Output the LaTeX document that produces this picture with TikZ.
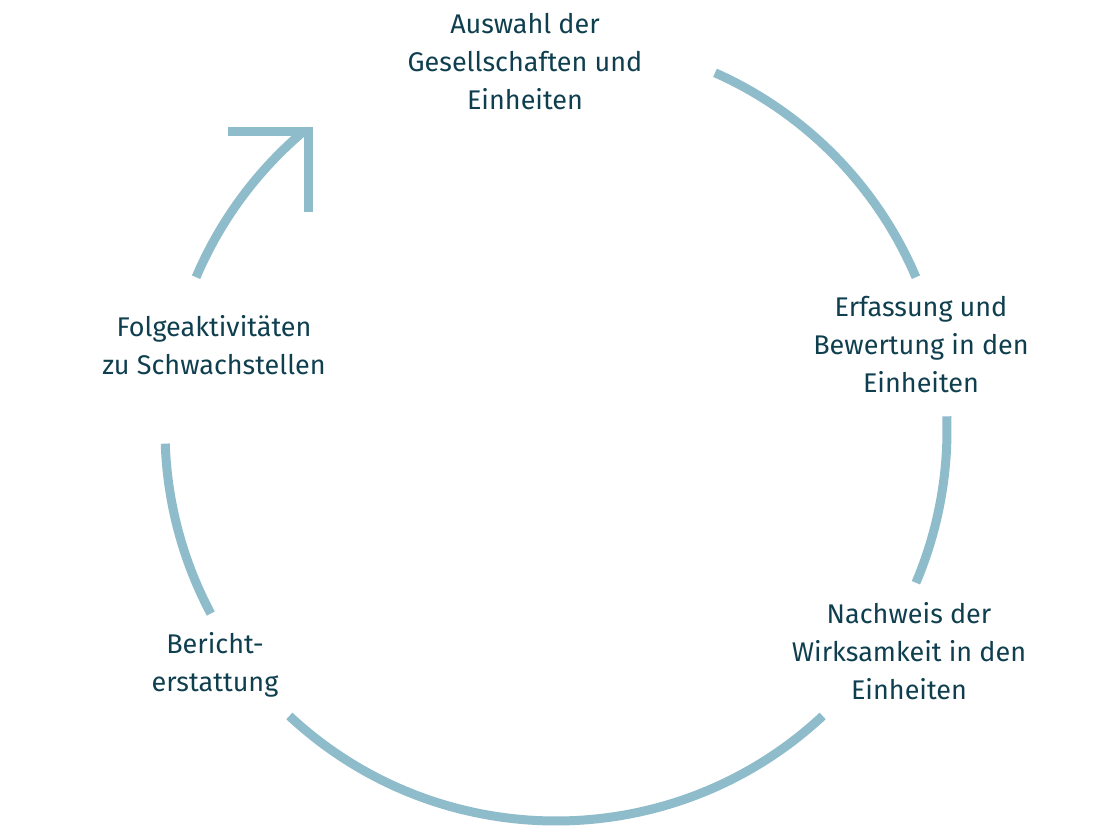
\documentclass[tikz,border=0pt]{standalone}
\usepackage{fontspec}
\setmainfont{Fira Sans}
\usetikzlibrary{positioning}
\definecolor{ringblue}{HTML}{8FBCCB}
\definecolor{textteal}{HTML}{0F3F4F}

\begin{document}
\begin{tikzpicture}[x=1pt, y=1pt,
  phase/.style={align=center, text=textteal, inner sep=0pt,
               font=\fontsize{27}{38}\selectfont},
  ring/.style={draw=ringblue, line width=9pt}
]
\useasboundingbox (0,0) rectangle (1120,840);

% Centre of the cycle
\coordinate (c) at (556,410);

% Phases
\node[phase] (auswahl) at (525,778) {Auswahl der\\Gesellschaften und\\Einheiten};
\node[phase] (erfassung) at (921,495) {Erfassung und\\Bewertung in den\\Einheiten};
\node[phase] (nachweis) at (909,189) {Nachweis der\\Wirksamkeit in den\\Einheiten};
\node[phase] (bericht) at (215,175) {Bericht-\\erstattung};
\node[phase] (folge) at (214,495) {Folgeaktivitäten\\zu Schwachstellen};

% Arcs between the phases
\draw[ring] (c) ++(66:391) arc[start angle=66, end angle=23, radius=391];
\draw[ring] (c) ++(2:391) arc[start angle=2, end angle=-23, radius=391];
\draw[ring] (c) ++(-47:391) arc[start angle=-47, end angle=-133, radius=391];
\draw[ring] (c) ++(-152:391) arc[start angle=-152, end angle=-178, radius=391];
\draw[ring] (c) ++(157:391) arc[start angle=157, end angle=130, radius=391];

% Arrow head
\coordinate (tip) at (308,708);
\draw[ring] (228,708) -- (tip) -- (308,628);
\end{tikzpicture}
\end{document}
